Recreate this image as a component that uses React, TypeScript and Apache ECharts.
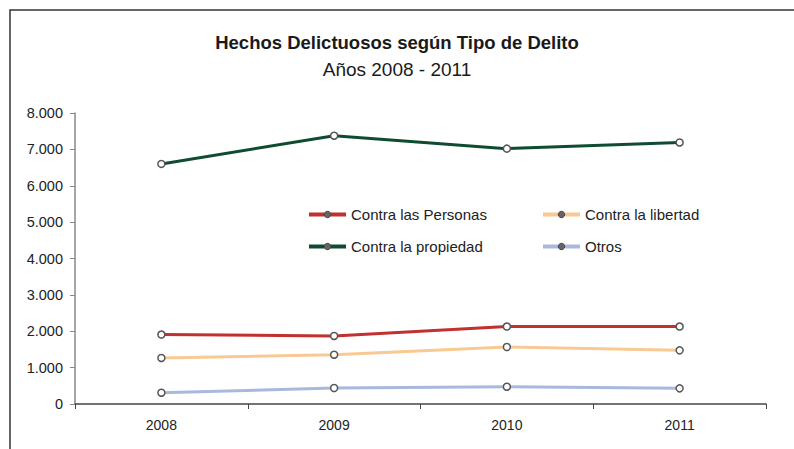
import React, { useEffect, useRef } from "react";
import * as echarts from "echarts";

const years = ["2008", "2009", "2010", "2011"];
const personas = [1910, 1870, 2130, 2130];
const libertad = [1265, 1355, 1567, 1475];
const propiedad = [6600, 7375, 7020, 7190];
const otros = [310, 440, 475, 430];

const seriesNames = ["Contra las Personas", "Contra la libertad", "Contra la propiedad", "Otros"];
const seriesColors = ["#C0312F", "#F8C992", "#0E4C31", "#A9B9DE"];
const yTicks = { min: 0, max: 8000, interval: 1000 };

const FONT = "'Liberation Sans', Arial, sans-serif";

export default function App() {
  const ref = useRef<HTMLDivElement>(null);
  useEffect(() => {
    if (!ref.current) return;
    const chart = echarts.init(ref.current, undefined, { renderer: "svg" });
    const data = [personas, libertad, propiedad, otros];
    const legendCommon = {
      orient: "vertical",
      top: 202,
      itemWidth: 37,
      itemHeight: 8,
      itemGap: 17,
      lineStyle: { width: 4 },
      itemStyle: { color: "#666", borderColor: "#444", borderWidth: 1 },
      textStyle: { fontFamily: FONT, fontSize: 15, color: "#222" },
    };
    chart.setOption({
      animation: false,
      backgroundColor: "#fff",
      title: [
        {
          text: "Hechos Delictuosos según Tipo de Delito",
          left: "center",
          top: 28,
          textStyle: { fontFamily: FONT, fontSize: 18.5, fontWeight: "bold", color: "#1a1a1a" },
        },
        {
          text: "Años 2008 - 2011",
          left: "center",
          top: 55,
          textStyle: { fontFamily: FONT, fontSize: 19, fontWeight: "normal", color: "#1a1a1a" },
        },
      ],
      graphic: [
        {
          type: "rect",
          shape: { x: 10, y: 10, width: 900, height: 600 },
          style: { fill: "none", stroke: "#333", lineWidth: 1.5 },
          silent: true,
        },
      ],
      legend: [
        { ...legendCommon, left: 302, data: [seriesNames[0], seriesNames[2]] },
        { ...legendCommon, left: 536, data: [seriesNames[1], seriesNames[3]] },
      ],
      grid: { left: 75, right: 28, top: 113, bottom: 45, containLabel: false },
      xAxis: {
        type: "category",
        data: years,
        boundaryGap: true,
        axisLine: { lineStyle: { color: "#444", width: 1.5 } },
        axisTick: { show: true, length: 5, lineStyle: { color: "#444" } },
        axisLabel: { fontFamily: FONT, fontSize: 14, color: "#222", margin: 14 },
        splitLine: { show: false },
      },
      yAxis: {
        type: "value",
        min: yTicks.min,
        max: yTicks.max,
        interval: yTicks.interval,
        axisLine: { show: true, lineStyle: { color: "#888", width: 1.5 } },
        axisTick: { show: true, length: 5, lineStyle: { color: "#888" } },
        axisLabel: {
          fontFamily: FONT,
          fontSize: 14.5,
          color: "#222",
          margin: 12,
          formatter: (v: number) => v.toLocaleString("de-DE"),
        },
        splitLine: { show: false },
      },
      series: seriesNames.map((name, i) => ({
        name,
        type: "line",
        data: data[i],
        color: seriesColors[i],
        symbol: "circle",
        symbolSize: 7,
        lineStyle: { color: seriesColors[i], width: 3 },
        itemStyle: { color: "#fff", borderColor: "#555", borderWidth: 1.5 },
      })),
    });
    return () => chart.dispose();
  }, []);
  return <div ref={ref} style={{ width: 794, height: 449, position: "absolute", left: 0, top: 0 }} />;
}
